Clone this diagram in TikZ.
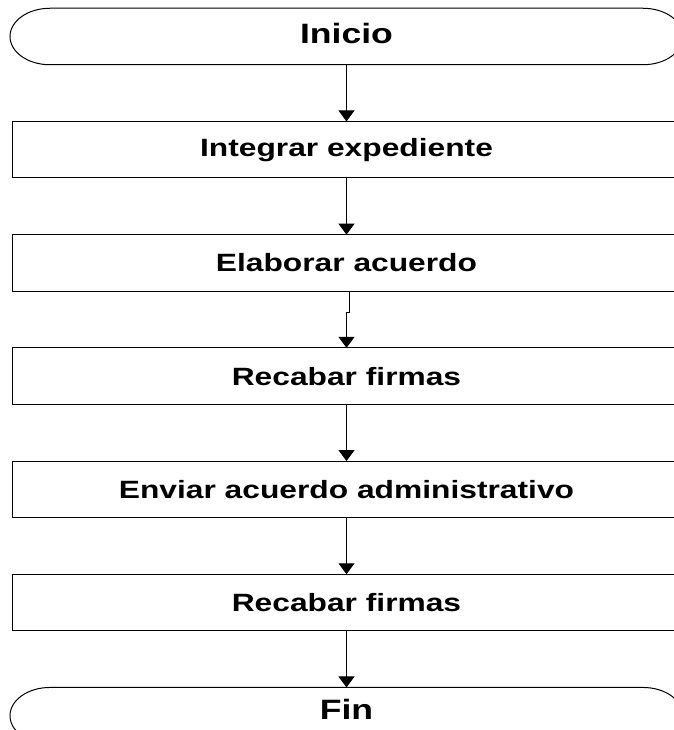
\documentclass[tikz,border=0pt]{standalone}
\usepackage{fontspec}
\usepackage{tikz}
\usetikzlibrary{arrows.meta,positioning}
\newfontfamily\flowfont{Liberation Sans}[FakeStretch=1.27]

\begin{document}
\begin{tikzpicture}[
  x=1pt,y=1pt,
  node distance=56.7pt,
  box/.style={draw,line width=1pt,minimum width=668pt,minimum height=56.5pt,inner sep=0pt,outer sep=0pt,align=center,font=\flowfont\bfseries\fontsize{25}{30}\selectfont},
  term/.style={box,draw=none,minimum width=673pt,font=\flowfont\bfseries\fontsize{28}{32}\selectfont},
  arrow/.style={-{Triangle[length=11pt,width=16pt]},line width=1pt}
]
  \useasboundingbox (0,0) rectangle (673,-730);
  \node[term,text depth=7pt] (inicio) at (346.5,-36.5) {Inicio};
  \node[box,below=of inicio] (integrar) {Integrar expediente};
  \node[box,below=of integrar] (elaborar) {Elaborar acuerdo};
  \node[box,below=of elaborar] (recabar1) {Recabar firmas};
  \node[box,below=of recabar1] (enviar) {Enviar acuerdo administrativo};
  \node[box,below=of enviar] (recabar2) {Recabar firmas};
  \node[term,text depth=12pt,below=of recabar2] (fin) {Fin};
  % terminal outlines with elliptic ends
  \draw[line width=1pt] ([xshift=40pt]inicio.north west) -- ([xshift=-40pt]inicio.north east)
    arc[start angle=90,end angle=-90,x radius=40pt,y radius=28.25pt]
    -- ([xshift=40pt]inicio.south west)
    arc[start angle=270,end angle=90,x radius=40pt,y radius=28.25pt] -- cycle;
  \draw[line width=1pt] ([xshift=40pt]fin.north west) -- ([xshift=-40pt]fin.north east)
    arc[start angle=90,end angle=-90,x radius=40pt,y radius=28.25pt]
    -- ([xshift=40pt]fin.south west)
    arc[start angle=270,end angle=90,x radius=40pt,y radius=28.25pt] -- cycle;
  \draw[arrow] (inicio) -- (integrar);
  \draw[arrow] (integrar) -- (elaborar);
  \draw[arrow] ([xshift=3pt]elaborar.south) -- ++(0,-21) -| (recabar1.north);
  \draw[arrow] (recabar1) -- (enviar);
  \draw[arrow] (enviar) -- (recabar2);
  \draw[arrow] (recabar2) -- (fin);
\end{tikzpicture}
\end{document}
